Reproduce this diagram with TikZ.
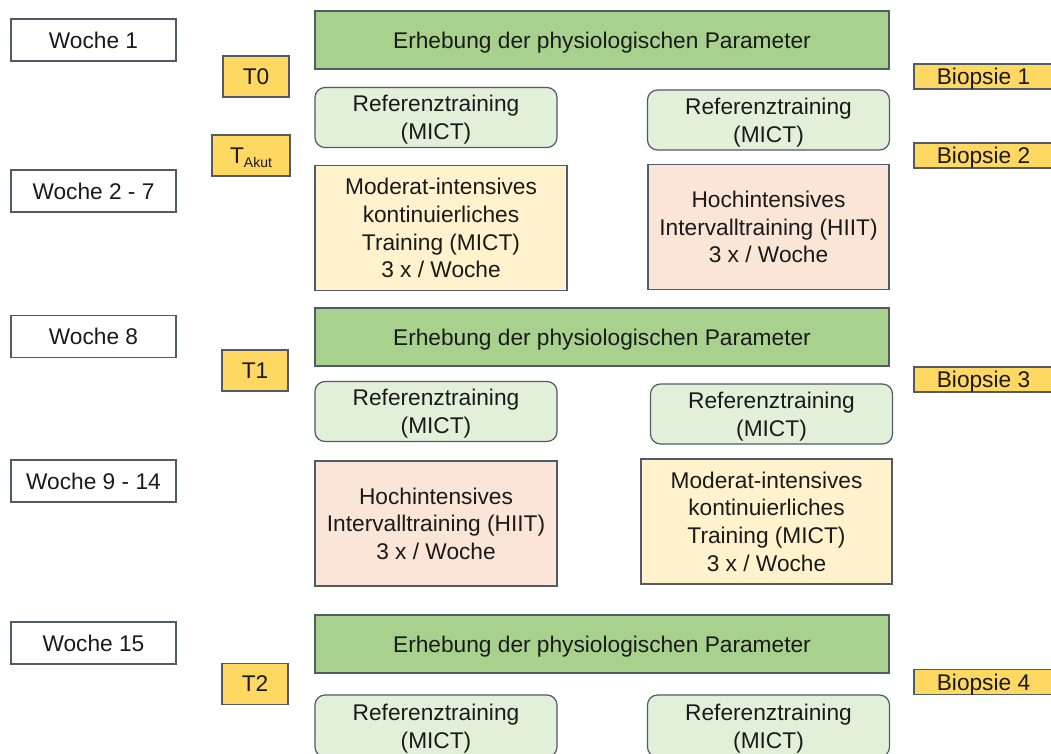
\documentclass[tikz,border=0pt]{standalone}
\usepackage{fontspec}
\setmainfont{Liberation Sans}
\definecolor{bordc}{HTML}{4F5B66}
\definecolor{greenfill}{HTML}{A9D18E}
\definecolor{reffill}{HTML}{E2F0D9}
\definecolor{mictfill}{HTML}{FFF2CC}
\definecolor{hiitfill}{HTML}{FBE5D6}
\definecolor{tfill}{HTML}{FFD862}
\definecolor{txt}{HTML}{1A1A1A}
\begin{document}
\begin{tikzpicture}[x=1pt,y=-1pt,
  base/.style={draw=bordc, line width=1.2pt, text=txt, inner sep=0pt, align=center,
    text depth=0pt, font=\fontsize{22.7}{27.7}\selectfont},
  weekbox/.style={base, fill=white, minimum width=165pt, minimum height=42pt},
  tbox/.style={base, fill=tfill, minimum height=41pt},
  biobox/.style={base, fill=tfill, minimum width=139pt, minimum height=25pt},
  erhbox/.style={base, fill=greenfill, minimum width=574pt, minimum height=58pt},
  refbox/.style={base, fill=reffill, rounded corners=10pt, minimum width=242pt, minimum height=60pt},
  mictbox/.style={base, fill=mictfill, minimum height=125pt},
  hiitbox/.style={base, fill=hiitfill, minimum height=125pt}]
\useasboundingbox (0,0) rectangle (1051,754);
\fill[white] (0,0) rectangle (1051,754);

% week boxes
\node[weekbox] (w1) at (93.5,40) {Woche 1};
\node[weekbox] (w2) at (93.5,191) {Woche 2 - 7};
\node[weekbox] (w3) at (93.5,336.5) {Woche 8};
\node[weekbox] (w4) at (93.5,481) {Woche 9 - 14};
\node[weekbox] (w5) at (93.5,643) {Woche 15};

% time points
\node[tbox, minimum width=66pt] (t0) at (256,76.5) {T0};
\node[tbox, minimum width=78pt] (takut) at (251,155.5) {T\raisebox{-0.35ex}{\fontsize{14}{14}\selectfont Akut}};
\node[tbox, minimum width=66pt] (t1) at (255,370.5) {T1};
\node[tbox, minimum width=66pt] (t2) at (255,684) {T2};

% Erhebung
\node[erhbox] (e1) at (602,40) {Erhebung der physiologischen Parameter};
\node[erhbox] (e2) at (602,337) {Erhebung der physiologischen Parameter};
\node[erhbox] (e3) at (602,644) {Erhebung der physiologischen Parameter};

% Referenztraining
\node[refbox] (r1l) at (436,117.5) {Referenztraining\\(MICT)};
\node[refbox] (r1r) at (768.5,120) {Referenztraining\\(MICT)};
\node[refbox] (r2l) at (436,411.5) {Referenztraining\\(MICT)};
\node[refbox] (r2r) at (771.5,414) {Referenztraining\\(MICT)};
\node[refbox, minimum height=62pt] (r3l) at (436,726) {Referenztraining\\(MICT)};
\node[refbox, minimum height=62pt] (r3r) at (768.5,726) {Referenztraining\\(MICT)};

% training blocks
\node[mictbox, minimum width=252pt] (m1) at (441,228) {Moderat-intensives\\kontinuierliches\\Training (MICT)\\3 x / Woche};
\node[hiitbox, minimum width=241pt] (h1) at (768.5,227) {Hochintensives\\Intervalltraining (HIIT)\\3 x / Woche};
\node[hiitbox, minimum width=242pt] (h2) at (436,523.5) {Hochintensives\\Intervalltraining (HIIT)\\3 x / Woche};
\node[mictbox, minimum width=251pt] (m2) at (766.5,521.5) {Moderat-intensives\\kontinuierliches\\Training (MICT)\\3 x / Woche};

% biopsies
\node[biobox] (b1) at (983.5,76.5) {Biopsie 1};
\node[biobox] (b2) at (983.5,155.5) {Biopsie 2};
\node[biobox] (b3) at (983.5,379.5) {Biopsie 3};
\node[biobox] (b4) at (983.5,682) {Biopsie 4};
\end{tikzpicture}
\end{document}
